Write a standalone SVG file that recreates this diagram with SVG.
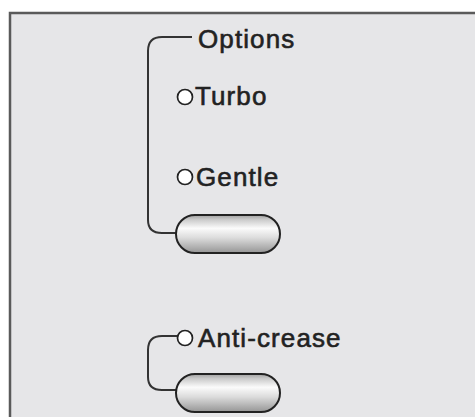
<svg xmlns="http://www.w3.org/2000/svg" width="475" height="417" viewBox="0 0 475 417">
<defs>
<linearGradient id="btn" x1="0" y1="0" x2="0" y2="1">
<stop offset="0" stop-color="#a0a0a0"/>
<stop offset="0.12" stop-color="#cacaca"/>
<stop offset="0.35" stop-color="#fbfbfb"/>
<stop offset="0.6" stop-color="#dcdcdc"/>
<stop offset="1" stop-color="#959595"/>
</linearGradient>
<style>
.t{font-family:"Liberation Sans",Arial,sans-serif;font-size:26px;letter-spacing:1.1px;fill:#222;stroke:#222;stroke-width:0.6;}
.rad{fill:#ffffff;stroke:#222;stroke-width:1.7;}
.btn{fill:url(#btn);stroke:#222;stroke-width:2;}
.ln{fill:none;stroke:#333;stroke-width:2;}
</style>
</defs>
<rect x="0" y="0" width="475" height="417" fill="#ffffff"/>
<rect x="10" y="13" width="475" height="420" fill="#e6e6e8" stroke="#5a5a5a" stroke-width="2.5"/>
<g id="connectors">
<path class="ln" d="M192,37 H162 Q148,37 148,51 V220 Q148,233 162,233 H176"/>
<path class="ln" d="M177,336 H162 Q148,336 148,350 V377 Q148,390 162,390 H176"/>
</g>
<g id="options">
<text class="t" x="198" y="48">Options</text>
</g>
<g id="turbo">
<circle class="rad" cx="185" cy="97" r="7.5"/>
<text class="t" x="195" y="105">Turbo</text>
</g>
<g id="gentle">
<circle class="rad" cx="185" cy="177" r="7.5"/>
<text class="t" x="196" y="186">Gentle</text>
</g>
<g id="button1">
<rect class="btn" x="176" y="215" width="104" height="38" rx="19"/>
</g>
<g id="anticrease">
<circle class="rad" cx="185" cy="338" r="7.5"/>
<text class="t" x="198" y="347">Anti-crease</text>
</g>
<g id="button2">
<rect class="btn" x="176" y="374" width="104" height="38" rx="19"/>
</g>
</svg>
